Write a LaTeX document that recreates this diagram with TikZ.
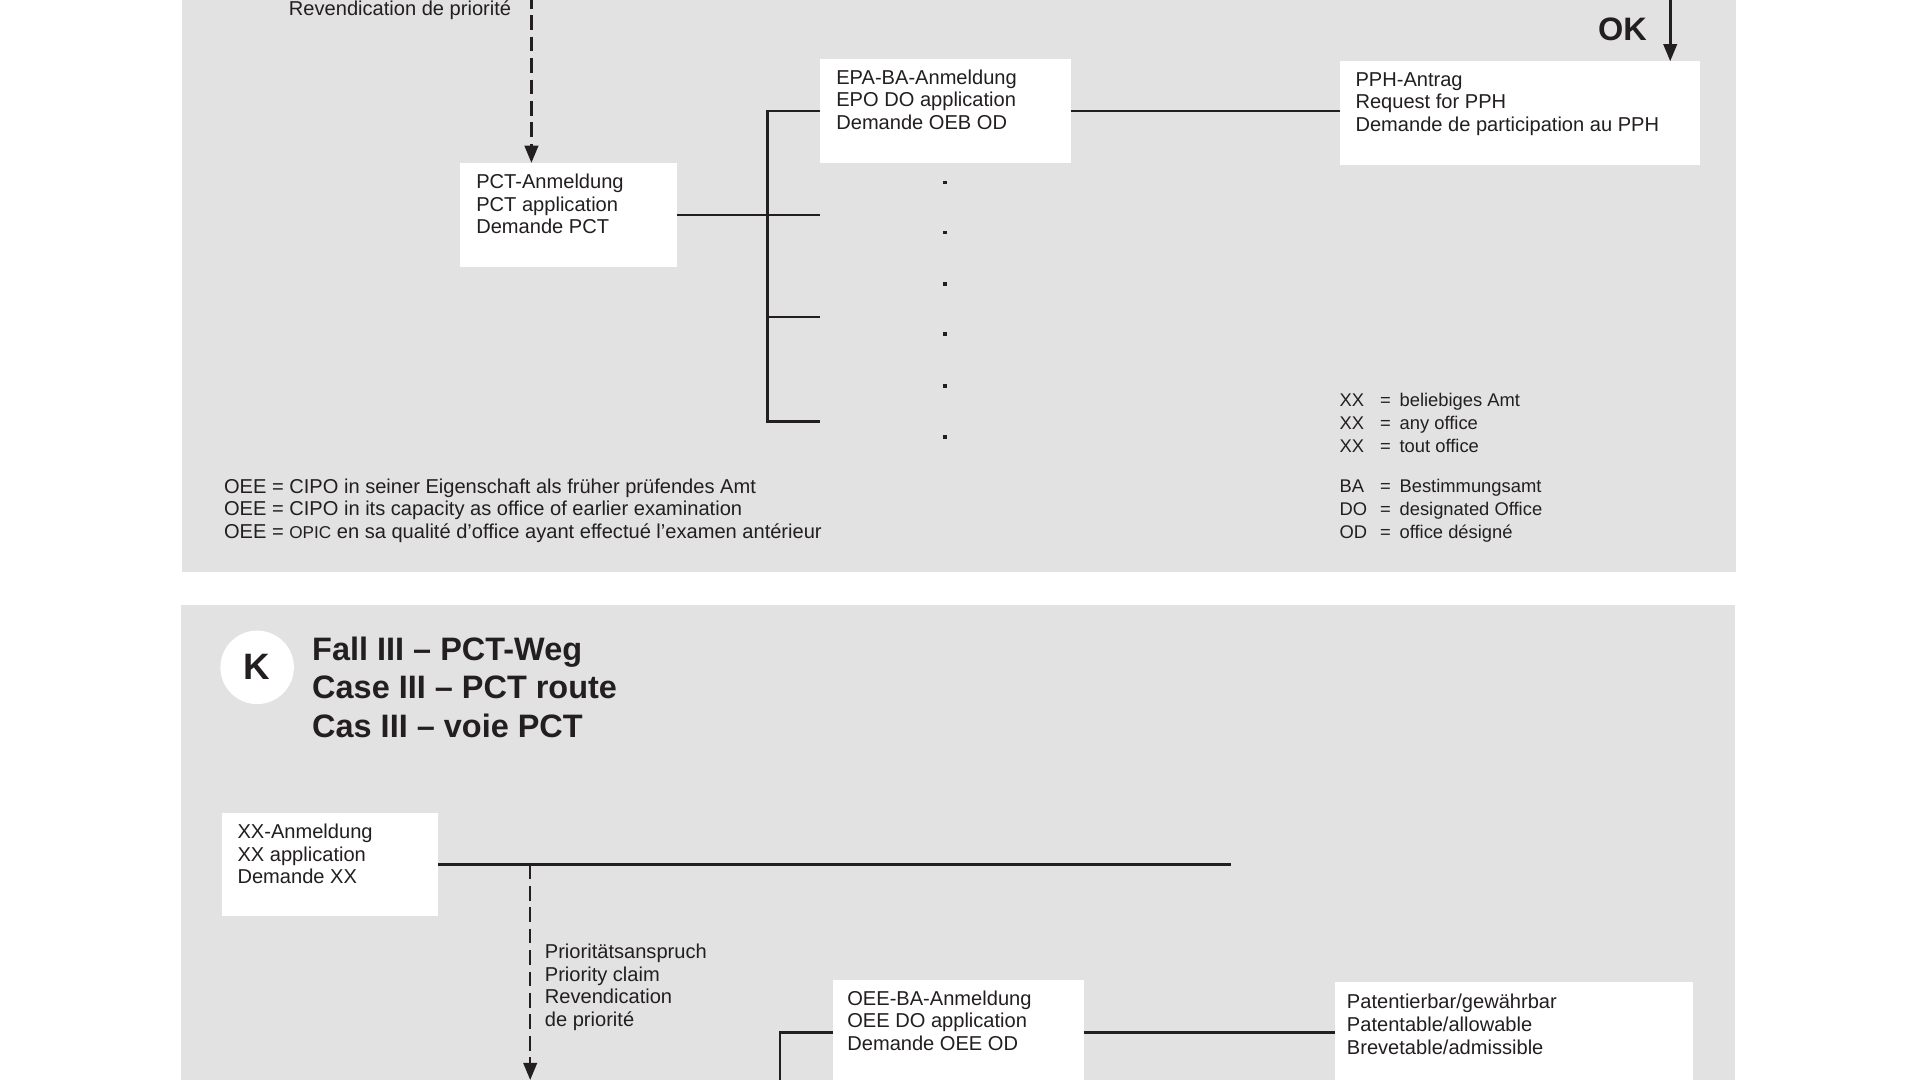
\documentclass[tikz,border=0pt]{standalone}
\usepackage{fontspec}
\setmainfont{Liberation Sans}
\usetikzlibrary{arrows.meta,calc}
\definecolor{panelgray}{HTML}{E2E2E2}
\definecolor{ink}{HTML}{231F20}
\newcommand{\lgline}[2]{\makebox[16.5pt][l]{#1}\makebox[8pt][l]{=}#2}
\begin{document}
\begin{tikzpicture}[x=0.5pt,y=-0.5pt,
  whitebox/.style={fill=white, draw=none, inner sep=0pt, outer sep=0pt, anchor=north west},
  txt/.style={font=\fontsize{8.2}{9.25}\selectfont, text=ink, align=left, inner sep=0pt, outer sep=0pt, anchor=north west},
  legtxt/.style={font=\fontsize{7.5}{9.25}\selectfont, text=ink, align=left, inner sep=0pt, outer sep=0pt, anchor=north west},
  headtxt/.style={font=\bfseries\fontsize{13.25}{15.75}\selectfont, text=ink, align=left, inner sep=0pt, outer sep=0pt, anchor=north west},
  conn/.style={draw=ink, line width=1.05pt},
  dashconn/.style={conn, dash pattern=on 6pt off 2.75pt},
  arrowtip/.style={-{Triangle[length=7pt,width=5.5pt]}}
]
\useasboundingbox (0,0) rectangle (1568,882);
\fill[white] (0,0) rectangle (1568,882);
% panels
\fill[panelgray] (149,-10) rectangle (1418,467);
\fill[panelgray] (148,494) rectangle (1417,900);

% ---------- top panel ----------
\node[txt, anchor=base west] (revtop) at (236,12.5) {Revendication de priorité};

\node[whitebox, minimum width=88.5pt, minimum height=42.5pt] (pct) at (376,133) {};
\node[txt] (pctt) at ([xshift=6.5pt,yshift=-4.5pt]pct.north west) {PCT-Anmeldung\\PCT application\\Demande PCT};

\node[whitebox, minimum width=102.5pt, minimum height=42.5pt] (epa) at (670,48) {};
\node[txt] (epat) at ([xshift=6.5pt,yshift=-4.5pt]epa.north west) {EPA-BA-Anmeldung\\EPO DO application\\Demande OEB OD};

\node[whitebox, minimum width=147pt, minimum height=42.5pt] (pph) at (1094,50) {};
\node[txt] (ppht) at ([xshift=6.5pt,yshift=-4.5pt]pph.north west) {PPH-Antrag\\Request for PPH\\Demande de participation au PPH};

% dashed priority arrow (top)
\coordinate (dtop) at (434,-5);
\draw[dashconn,arrowtip] (dtop) -- (dtop |- pct.north);

% OK arrow
\coordinate (oktop) at (1364,-5);
\draw[conn,arrowtip] (oktop) -- (oktop |- pph.north);
\node[font=\bfseries\fontsize{13.25}{15.75}\selectfont, text=ink, inner sep=0pt] (ok) at (1325,24) {OK};

% bracket
\coordinate (brtop) at (627,0 |- epa.west);
\coordinate (brb) at (627,344);
\coordinate (e2) at (670,0 |- pct.east);
\coordinate (e3) at (670,259);
\coordinate (e3l) at (627,259);
\coordinate (e4) at (670,344);
\draw[conn] (epa.west) -- (brtop) -- (brb) -- (e4);
\draw[conn] (e3l) -- (e3);
\draw[conn] (pct.east) -- (e2);
\draw[conn] (epa.east) -- (epa.east -| pph.west);

% dots
\foreach \yy in {149,190,232,273,315,357}
  \fill[ink] (772,\yy) ++(-1.5,-1.5) rectangle ++(3,3);

% legends
\node[txt] (legl) at (183,391) {OEE = CIPO in seiner Eigenschaft als früher prüfendes Amt\\OEE = CIPO in its capacity as office of earlier examination\\OEE = {\fontsize{7}{9.25}\selectfont OPIC} en sa qualité d’office ayant effectué l’examen antérieur};
\node[legtxt] (legr1) at (1094,321.5) {\lgline{XX}{beliebiges Amt}\\\lgline{XX}{any office}\\\lgline{XX}{tout office}};
\node[legtxt] (legr2) at (1094,391.5) {\lgline{BA}{Bestimmungsamt}\\\lgline{DO}{designated Office}\\\lgline{OD}{office désigné}};

% ---------- bottom panel ----------
\node[circle, fill=white, minimum size=30pt, inner sep=0pt, text=ink, font=\bfseries\fontsize{15}{18}\selectfont] (kc) at (210,545) {K};
\node[headtxt] (head) at (255,520) {Fall III – PCT-Weg\\Case III – PCT route\\Cas III – voie PCT};

\node[whitebox, minimum width=88.5pt, minimum height=42pt] (xx) at (181,664) {};
\node[txt] (xxt) at ([xshift=6.5pt,yshift=-4.5pt]xx.north west) {XX-Anmeldung\\XX application\\Demande XX};

\coordinate (xxend) at (1005,0 |- xx.east);
\draw[conn] (xx.east) -- (xxend);

\coordinate (dsplit) at (433,0 |- xx.east);
\coordinate (dtip) at (433,882);
\draw[dashconn,arrowtip] (dsplit) -- (dtip);
\node[txt] (prio) at (445,771) {Prioritätsanspruch\\Priority claim\\Revendication\\de priorité};

\node[whitebox, minimum width=102.5pt, minimum height=43pt] (oee) at (680,800) {};
\node[txt] (oeet) at ([xshift=6pt,yshift=-4.5pt]oee.north west) {OEE-BA-Anmeldung\\OEE DO application\\Demande OEE OD};

\node[whitebox, minimum width=146.5pt, minimum height=41pt] (pat) at (1090,802) {};
\node[txt] (patt) at ([xshift=5pt,yshift=-5pt]pat.north west) {Patentierbar/gewährbar\\Patentable/allowable\\Brevetable/admissible};

\coordinate (obr) at (637,0 |- oee.west);
\coordinate (obot) at (637,895);
\draw[conn] (oee.west) -- (obr) -- (obot);
\draw[conn] (oee.east) -- (oee.east -| pat.west);
\end{tikzpicture}
\end{document}
